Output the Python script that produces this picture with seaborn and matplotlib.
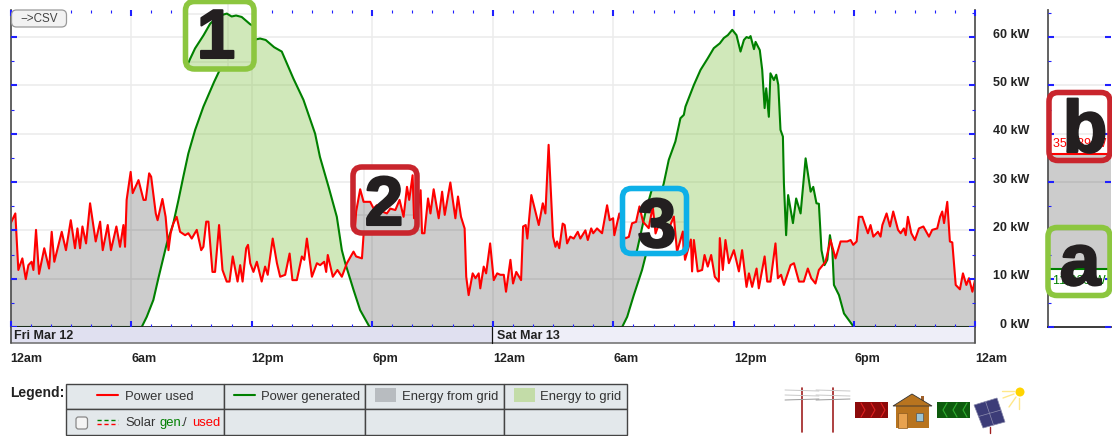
import numpy as np
import pandas as pd
import seaborn as sns
import matplotlib.pyplot as plt
import matplotlib.patheffects as pe
from matplotlib.patches import FancyBboxPatch, Rectangle, Polygon, Circle
from matplotlib.transforms import Affine2D

# hours since Fri 12am, power in kW
used_h = [0, .24, .39, .59, .76, .89, 1.05, 1.14, 1.27, 1.42, 1.68, 1.92, 2.05, 2.18, 2.55, 2.76, 3.0, 3.21, 3.33, 3.46,
          3.58, 3.76, 3.96, 4.24, 4.46, 4.59, 4.84, 5.0, 5.27, 5.45, 5.62, 5.7, 5.78, 5.98, 6.08, 6.37, 6.62, 6.73, 6.9, 7.0,
          7.23, 7.32, 7.56, 7.72, 7.86, 7.97, 8.1, 8.27, 8.44, 8.69, 8.85, 9.02, 9.27, 9.49, 9.6, 9.74, 9.85, 10.05, 10.18, 10.38,
          10.55, 10.76, 10.9, 11.06, 11.3, 11.43, 11.55, 11.73, 11.82, 11.93, 12.09, 12.26, 12.5, 12.67, 12.8, 13.05, 13.26, 13.42, 13.67, 13.89,
          14.03, 14.25, 14.5, 14.62, 14.75, 15.0, 15.25, 15.41, 15.61, 15.71, 15.79, 16.04, 16.27, 16.49, 16.74, 17.07, 17.2, 17.49, 17.6, 17.8,
          17.97, 18.13, 18.3, 18.47, 18.63, 18.88, 19.13, 19.3, 19.55, 19.76, 19.96, 20.13, 20.24, 20.41, 20.48, 20.6, 20.78, 20.9, 21.06, 21.31,
          21.48, 21.61, 21.89, 22.14, 22.27, 22.42, 22.6, 22.68, 22.8, 23.0, 23.14, 23.3, 23.38, 23.55, 23.67, 23.87, 24.05, 24.22, 24.38, 24.55,
          24.66, 24.88, 25.01, 25.17, 25.41, 25.51, 25.64, 25.72, 25.92, 26.12, 26.29, 26.49, 26.62, 26.78, 27.0, 27.12, 27.2, 27.31, 27.48, 27.58,
          27.7, 27.86, 28.03, 28.23, 28.36, 28.61, 28.73, 28.9, 29.0, 29.19, 29.44, 29.69, 29.82, 29.99, 30.05, 30.3, 30.6, 31.0, 31.17, 31.33,
          31.53, 31.7, 31.88, 32.16, 32.36, 32.5, 32.74, 33.0, 33.41, 33.57, 33.86, 33.92, 34.01, 34.2, 34.42, 34.54, 34.7, 34.87, 35.05, 35.25,
          35.3, 35.45, 35.58, 35.75, 36.0, 36.25, 36.41, 36.63, 36.75, 36.91, 37.13, 37.24, 37.53, 37.66, 37.82, 38.07, 38.19, 38.35, 38.49, 38.82,
          38.99, 39.24, 39.48, 39.68, 39.85, 40.06, 40.23, 40.56, 40.81, 41.06, 41.31, 41.64, 41.81, 41.94, 42.11, 42.22, 42.39, 42.67, 42.8, 42.94,
          43.17, 43.3, 43.39, 43.6, 43.77, 43.93, 44.17, 44.3, 44.46, 44.55, 44.66, 44.83, 45.01, 45.21, 45.43, 45.71, 45.87, 46.12, 46.26, 46.37,
          46.46, 46.62, 46.75, 46.87, 47.04, 47.25, 47.4, 47.57, 47.7, 47.87, 48]
used_kw = [21.4, 23.5, 11.8, 14.2, 9.9, 12.8, 13.5, 11.8, 20.1, 11, 16.3, 12.1, 19.7, 13.5, 19.7, 15.9, 22.1, 16.3, 20.4, 16.3,
           20.8, 17.3, 25.6, 17.7, 21.8, 15.9, 21.1, 15.9, 20.8, 16.6, 21.1, 16.6, 26.3, 32.1, 27.7, 30.4, 26.3, 26.3, 31.8, 31.1,
           23.5, 22.1, 26.5, 22.8, 15.9, 19.4, 21.4, 22.8, 19.7, 19, 19.4, 18.3, 20.1, 15.9, 16.6, 21.8, 21.8, 11.4, 11.4, 21.1,
           11.8, 9.4, 9.4, 14.6, 9.4, 12.8, 9.4, 16.3, 17, 13.2, 11.4, 13.5, 9.4, 12.5, 10.8, 18.3, 13.2, 10.4, 10.8, 15.2,
           9.7, 9.7, 14.6, 13.9, 18.3, 10.4, 13.2, 12.8, 13.5, 11.4, 14.9, 10.4, 11.8, 10.4, 13.2, 15.6, 14.6, 14.2, 20.8, 25.4,
           22.8, 22.8, 22.8, 21.4, 22.1, 20.8, 20.4, 21.4, 21.1, 23.2, 19.7, 25.9, 23.2, 28.3, 19.4, 19.4, 26.6, 23.5, 28.5, 22.5,
           28, 23.2, 29.9, 22.5, 27, 22.8, 20.4, 10.4, 6.6, 11.1, 10.1, 11.1, 8, 12.5, 11.1, 17.3, 9.7, 11.1, 10.8, 10.8,
           7.3, 13.9, 9, 11.4, 9.7, 20.8, 21.1, 18.3, 27.3, 23.9, 21.1, 25.6, 23.5, 37.7, 18.7, 16.6, 17.7, 16.3, 21.4, 21.1,
           17.3, 18.7, 18.3, 19.7, 18.3, 20, 18, 20.4, 19.4, 20.4, 19.4, 25.2, 22.1, 22.5, 19, 23.5, 18.5, 16.7, 17, 19.8,
           20.1, 23.3, 20.1, 18.8, 23.3, 17.7, 20.5, 17, 21.2, 13.9, 18.1, 11.5, 18, 11.5, 11.8, 14.9, 12.5, 14.9, 10.4, 9.4,
           18.4, 11.8, 18, 13.2, 15.9, 11.5, 15.9, 8.3, 11.1, 8.3, 12.1, 8, 14.6, 9.4, 9.4, 17.3, 10.1, 10.8, 8.7, 12.8,
           13.2, 9.4, 9.4, 12.1, 10.1, 9, 11.8, 13.5, 18, 14.2, 17.7, 17.7, 18, 17, 17.7, 22.8, 22.8, 19.4, 21.1, 18.7,
           19.7, 18.7, 21.1, 23.5, 20.8, 23.9, 20.1, 19.4, 20.4, 19, 22.8, 19.4, 18, 20.4, 20.8, 18.7, 20.1, 20.4, 22.8, 23.9,
           21.5, 25.9, 17.7, 17.5, 8.7, 7.8, 11.1, 8.7, 10.1, 7.3, 9.7]
gen_h = [0, 6.53, 6.78, 7.11, 7.36, 7.78, 8.1, 8.36, 8.6, 8.85, 9.19, 9.6, 10.13, 10.38, 10.8, 11.13, 11.54, 11.96, 12.2, 12.42,
         12.7, 13.12, 13.5, 14.08, 14.58, 15.16, 15.4, 15.83, 16.24, 16.49, 16.66, 17.07, 17.4, 17.87, 30.44, 30.69, 31.02, 31.43, 31.6, 32.0,
         32.51, 32.76, 33.09, 33.34, 33.51, 33.59, 34.01, 34.34, 34.7, 35.0, 35.3, 35.5, 35.7, 35.92, 36.13, 36.33, 36.5, 36.63, 36.75, 36.83,
         37.0, 37.08, 37.29, 37.41, 37.53, 37.61, 37.74, 37.82, 37.99, 38.11, 38.21, 38.32, 38.44, 38.49, 38.6, 38.7, 38.94, 39.1, 39.32, 39.57,
         39.82, 39.95, 40.11, 40.23, 40.36, 40.51, 40.65, 40.78, 40.9, 40.98, 41.23, 41.48, 41.97, 42.06, 48]
gen_kw = [0, 0, 2.1, 5.6, 10.1, 17.3, 21.4, 26.3, 31.1, 35.9, 40.8, 45.6, 50.7, 52.9, 55.6, 58, 59.6, 60.1, 59.5, 59.7,
          59.4, 57.9, 57, 51.4, 47, 40, 35.2, 29, 22.8, 15.9, 13.2, 7.7, 3.5, 0, 0, 2.1, 6.6, 11.8, 14.6, 22.1,
          29.7, 34.6, 38.4, 43.2, 43.9, 45.6, 50.1, 53.2, 55.6, 57.7, 58.7, 59.8, 60.4, 61.5, 60.4, 57, 59.4, 60, 59.8, 60.2,
          57.5, 59, 57.3, 53.2, 45.3, 49.4, 43.5, 52.5, 51.1, 52.2, 50.1, 40.8, 39.4, 29.7, 19, 27.3, 21.5, 26.6, 23.5, 34.9,
          28, 29, 25.6, 25.5, 15.9, 12.8, 13.9, 19, 15.9, 8.7, 6.6, 2.8, 0, 0, 0]
now_used_kw = 35.789
now_gen_kw = 11.923
hour_labels = ['12am', '6am', '12pm', '6pm', '12am', '6am', '12pm', '6pm', '12am']
kw_ticks = [0, 10, 20, 30, 40, 50, 60]

W, H = 1112, 436
RED, GREEN, GRAY_FILL, GREEN_FILL = '#ff0000', '#008000', '#000000', '#7fc040'
TICK = '#2020ff'
TEXT = '#333333'
GRID = '#ececec'

sns.set_theme(style='white', font='Liberation Sans')
used_df = pd.DataFrame({'hour': used_h, 'kw': used_kw})
gen_df = pd.DataFrame({'hour': gen_h, 'kw': gen_kw})
grid_h = np.union1d(used_h, gen_h)
used_g = np.interp(grid_h, used_h, used_kw)
gen_g = np.interp(grid_h, gen_h, gen_kw)

fig = plt.figure(figsize=(W / 100, H / 100), dpi=100)
ax2 = fig.add_axes([1048 / W, 1 - 327 / H, 63 / W, 317 / H])
ax = fig.add_axes([10.5 / W, 1 - 327 / H, 964.5 / W, 317 / H])
ax.set_zorder(3)
ax.patch.set_alpha(0)
px = Affine2D().scale(1, -1).translate(0, H)  # picture pixels, y down


def draw_chart(tr, clip=None, z=1):
    arts = [ax.hlines(kw_ticks[1:], 0, 48, color=GRID, lw=1.2, transform=tr, zorder=z),
            ax.vlines(range(6, 48, 6), 0, 65.6, color=GRID, lw=1.1, transform=tr, zorder=z),
            ax.fill_between(grid_h, gen_g, used_g, where=used_g >= gen_g, interpolate=True, color=GRAY_FILL,
                            alpha=.2, lw=0, transform=tr, zorder=z + .1),
            ax.fill_between(grid_h, used_g, gen_g, where=gen_g >= used_g, interpolate=True, color=GREEN_FILL,
                            alpha=.36, lw=0, transform=tr, zorder=z + .1)]
    sns.lineplot(data=gen_df, x='hour', y='kw', color=GREEN, lw=1.5, estimator=None, sort=False, ax=ax, zorder=z + .2)
    arts.append(ax.lines[-1])
    sns.lineplot(data=used_df, x='hour', y='kw', color=RED, lw=1.5, estimator=None, sort=False, ax=ax, zorder=z + .3)
    arts.append(ax.lines[-1])
    for a in arts[-2:]:
        a.set_transform(tr)
    if clip is not None:
        for a in arts:
            a.set_clip_path(clip)
            a.set_clip_box(None)


def rbox(x0, y0, x1, y1, r, **kw):
    p = FancyBboxPatch((x0, y0), x1 - x0, y1 - y0, boxstyle=f'round,pad=0,rounding_size={r}', transform=px,
                       clip_on=False, **kw)
    ax.add_patch(p)
    return p


def rect(x0, y0, x1, y1, **kw):
    p = Rectangle((x0, y0), x1 - x0, y1 - y0, transform=px, clip_on=False, **kw)
    ax.add_patch(p)
    return p


def txt(x, y, s, size=9.4, color=TEXT, weight='normal', ha='left', va='center', z=8, fat=0):
    t = ax.text(x, y, s, transform=px, fontsize=size, color=color, weight=weight, ha=ha, va=va, clip_on=False, zorder=z)
    if fat:
        t.set_path_effects([pe.withStroke(linewidth=fat, foreground=color)])


def line(xs, ys, color, lw=1, z=8, **kw):
    ax.plot(xs, ys, color=color, lw=lw, transform=px, clip_on=False, zorder=z, **kw)


draw_chart(ax.transData)

# small panel on the right
ax2.hlines(kw_ticks[1:], 0, 1, color=GRID, lw=1.2, zorder=0.5)
ax2.fill_between([0, 1], [now_gen_kw, now_gen_kw], [now_used_kw, now_used_kw], color=GRAY_FILL, alpha=.2, lw=0, zorder=1)
sns.lineplot(x=[0, 1], y=[now_used_kw, now_used_kw], color=RED, lw=1.5, ax=ax2)
sns.lineplot(x=[0, 1], y=[now_gen_kw, now_gen_kw], color=GREEN, lw=1.5, ax=ax2)
ax2.set(xlim=(0, 1), ylim=(0, 65.6), xticks=[], xlabel='', ylabel='')
ax2.set_axisbelow(False)
ax2.set_yticks(kw_ticks)
ax2.set_yticklabels([])
ax2.set_yticks(range(5, 70, 10), minor=True)
ax2.tick_params(axis='y', which='major', direction='in', left=True, right=True, length=4, width=1.5, color=TICK)
ax2.tick_params(axis='y', which='minor', direction='in', left=True, length=2.5, width=.8, color=TICK)
for s in ['top', 'right']:
    ax2.spines[s].set_visible(False)
ax2.spines['left'].set_color('#555555')
ax2.spines['left'].set_linewidth(1.3)
ax2.spines['bottom'].set_color('#222222')
ax2.text(.5, now_used_kw + 2.2, '35,789 W', color=RED, fontsize=9, ha='center', va='center')
ax2.text(.5, now_gen_kw - 2.2, '11,923 W', color=GREEN, fontsize=9, ha='center', va='center')

# date strip
rect(10.5, 327, 492, 343, fc='#e0e0f0', ec='none', zorder=3)
rect(492, 327, 975, 343, fc='#eeeef8', ec='none', zorder=3)
line([10.5, 975], [343, 343], '#777777', lw=1.2, z=4)
line([10.5, 10.5], [327, 343], '#555555', lw=1.3, z=4)
line([975, 975], [327, 343], '#555555', lw=1.3, z=4)
line([492, 492], [327, 343], '#111111', lw=.9, z=4)
txt(14, 336, 'Fri Mar 12', size=9, weight='bold', color='#222222')
txt(497, 336, 'Sat Mar 13', size=9, weight='bold', color='#222222')

# CSV button
rbox(11.5, 10, 66.5, 27, 5, fc='#f2f2f2', ec='#999999', lw=.9, zorder=6)
txt(39, 18.5, '−>CSV', size=8.4, color='#444444', ha='center')

# callout boxes, each shows the chart shifted by a few pixels
callouts = [(185.5, 1.5, 254, 69, '#8cc63f', -24, 23, '1', 216, 58),
            (353, 167, 417, 233, '#c9252d', -8, 15, '2', 384, 225),
            (622.5, 188.5, 686.5, 253.5, '#0db0e8', -8, 8, '3', 657, 247)]
for i, (x0, y0, x1, y1, col, dx, dy, s, tx, ty) in enumerate(callouts):
    z = 10 + i * 2
    face = rbox(x0, y0, x1, y1, 9, fc='white', ec='none', zorder=z)
    draw_chart(ax.transData + Affine2D().translate(dx, dy), clip=face, z=z)
    rbox(x0, y0, x1, y1, 9, fc='none', ec=col, lw=4, zorder=z + .6)
    txt(tx, ty, s, size=50, weight='bold', color='#231f20', ha='center', va='baseline', z=z + .7, fat=1.5)
rbox(1049, 92.5, 1110, 160.5, 9, fc='none', ec='#c9252d', lw=4, zorder=17)
rbox(1048, 227.5, 1110, 295.5, 9, fc='none', ec='#8cc63f', lw=4, zorder=17)
txt(1085, 152, 'b', size=53, weight='bold', color='#231f20', ha='center', va='baseline', z=18, fat=1.5)
txt(1080, 285, 'a', size=53, weight='bold', color='#231f20', ha='center', va='baseline', z=18, fat=1.5)

# axes, set last because lineplot writes its own labels
ax.set(xlim=(0, 48), ylim=(0, 65.6), xlabel='', ylabel='')
ax.set_axisbelow(False)
ax.set_xticks(range(0, 49, 6))
ax.set_xticklabels(hour_labels, ha='left', fontsize=9, weight='bold', color='#222222')
ax.set_xticks(range(49), minor=True)
ax.set_yticks(kw_ticks)
ax.set_yticklabels([f'{v} kW' for v in kw_ticks], ha='right', fontsize=9, weight='bold', color='#222222')
ax.set_yticks(range(5, 70, 10), minor=True)
ax.tick_params(axis='x', which='major', direction='in', top=True, bottom=True, length=4, width=1.5, color=TICK, pad=18.5)
ax.tick_params(axis='x', which='minor', direction='in', top=True, bottom=True, length=2.5, width=.8, color=TICK)
ax.tick_params(axis='y', which='major', direction='in', left=True, right=True, labelleft=False, labelright=True,
               length=4, width=1.5, color=TICK, pad=39)
ax.tick_params(axis='y', which='minor', direction='in', left=True, right=True, length=2.5, width=.8, color=TICK)
for lab in ax.get_yticklabels():
    lab.set_transform(lab.get_transform() + Affine2D().translate(0, 4))
ax.spines['top'].set_visible(False)
for s in ['left', 'right']:
    ax.spines[s].set_color('#555555')
    ax.spines[s].set_linewidth(1.3)
ax.spines['bottom'].set_color('#222222')

# legend table
txt(10, 393, 'Legend:', size=10, weight='bold', color='#222222')
cols = [66, 224, 365, 504, 626.5]
for y0, y1 in [(383.5, 409), (409, 435)]:
    for c0, c1 in zip(cols[:-1], cols[1:]):
        rect(c0, y0, c1, y1, fc='#e3e8eb', ec='#444444', lw=1, zorder=5)
line([97, 118], [395, 395], RED, lw=1.5)
txt(125, 396.5, 'Power used')
line([234, 255], [395, 395], GREEN, lw=1.5)
txt(261, 396.5, 'Power generated')
rect(375, 388, 396, 402, fc='#b8bcc0', ec='none', zorder=7)
txt(402, 396.5, 'Energy from grid')
rect(514, 388, 535, 402, fc='#c3dca8', ec='none', zorder=7)
txt(540, 396.5, 'Energy to grid')
rbox(76, 417, 87.5, 429, 2.5, fc='#f4f4f4', ec='#888888', lw=.9, zorder=7)
line([97, 118], [420, 420], GREEN, lw=1, ls=(0, (3, 2)))
line([97, 118], [423.5, 423.5], RED, lw=1, ls=(0, (3, 2)))
txt(125, 423, 'Solar')
txt(159, 423, 'gen.', color=GREEN)
txt(183, 423, '/')
txt(192, 423, 'used', color=RED)

# little picture of poles, house and panel
for x in [802, 833]:
    line([x, x], [388, 432], '#a02020', lw=1.2)
    line([x - 17, x + 17], [390, 391], '#c8c8c8', lw=.7)
    line([x - 17, x + 17], [395, 396], '#c8c8c8', lw=.7)
    line([x - 17, x + 17], [400, 399], '#999999', lw=.7)
rect(855, 402, 888, 418, fc='#8c0a0a', ec='none', zorder=7)
rect(937, 402, 970, 418, fc='#0d5a0d', ec='none', zorder=7)
for x in [861, 871, 881]:
    line([x, x + 4, x], [403, 410, 417], '#e02020', lw=.8)
for x in [947, 957, 967]:
    line([x, x - 4, x], [403, 410, 417], '#30b030', lw=.8)
rect(896, 406, 929, 428, fc='#b8741f', ec='none', zorder=7)
ax.add_patch(Polygon([(912, 394), (932, 406), (893, 406)], fc='#b8741f', ec='#333333', lw=.6, transform=px,
                     clip_on=False, zorder=7))
rect(921, 396, 924, 402, fc='#a0602a', ec='none', zorder=6.9)
rect(898, 413, 907, 428, fc='#e8a24f', ec='#8a5a20', lw=.5, zorder=8)
rect(916, 413, 923, 421, fc='#9cc4d4', ec='#555555', lw=.5, zorder=8)
ax.add_patch(Polygon([(974, 405), (997, 398), (1005, 422), (983, 428)], fc='#3c3c78', ec='#8888aa', lw=.5,
                     transform=px, clip_on=False, zorder=7))
line([985.5, 993.5], [401.5, 425], '#9090b0', lw=.5)
line([978.5, 1001], [416.5, 410], '#9090b0', lw=.5)
line([990, 990], [427, 433], '#a02020', lw=1)
ax.add_patch(Circle((1020, 392), 4.5, fc='#ffd400', ec='none', transform=px, clip_on=False, zorder=7))
for x0, y0, x1, y1 in [(1014, 391, 1002, 391), (1014, 394, 1003, 398), (1016, 397, 1009, 407), (1019, 398, 1019, 409)]:
    line([x0, x1], [y0, y1], '#ffe88a', lw=1)

fig.savefig('out.png', dpi=100)
